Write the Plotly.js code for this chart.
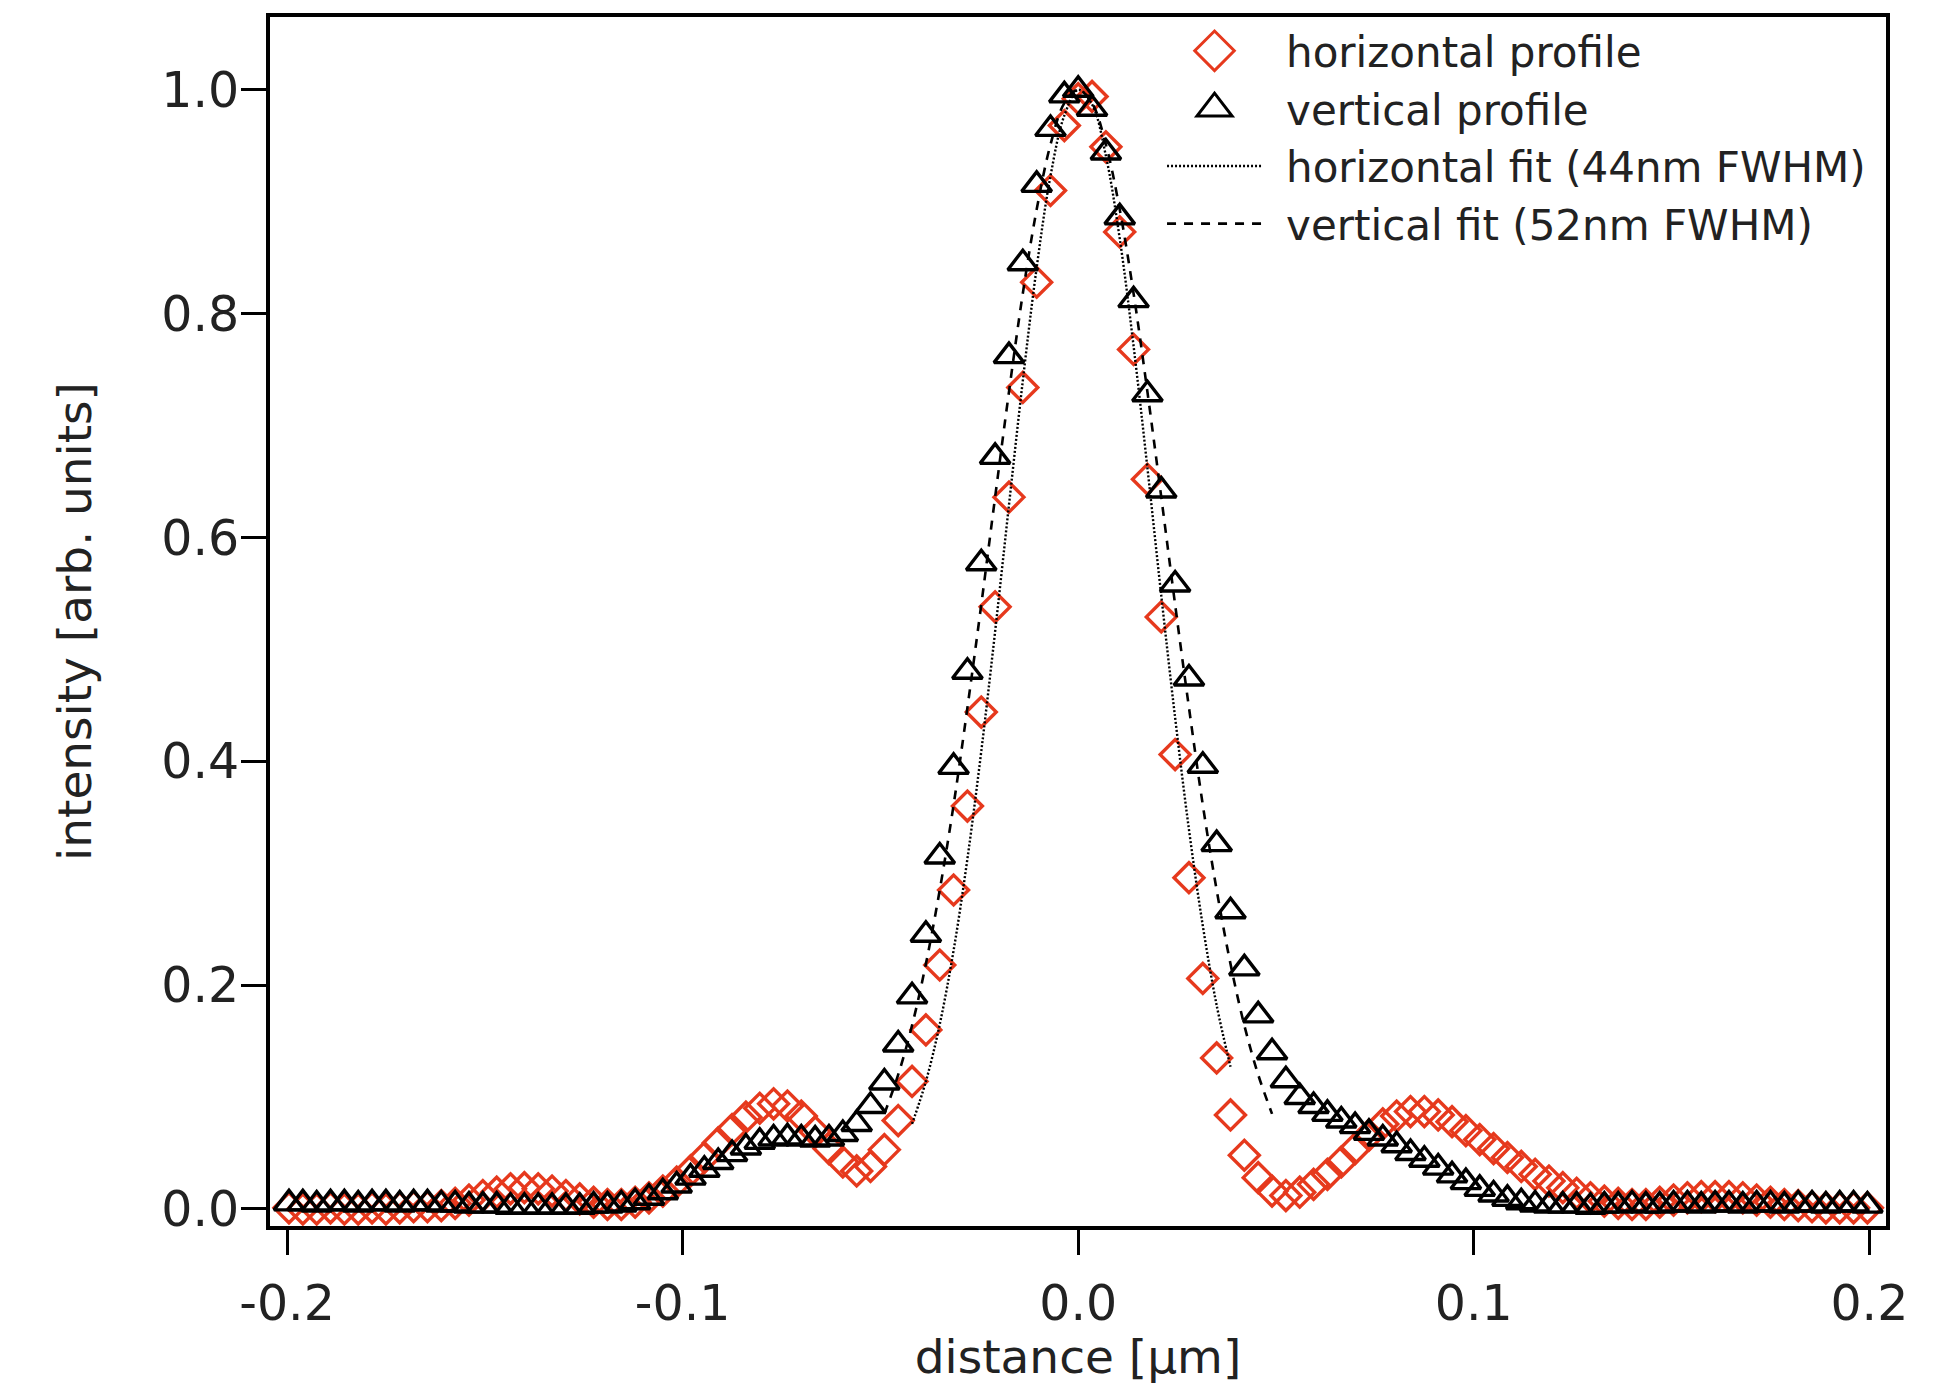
<!DOCTYPE html>
<html>
<head>
<meta charset="utf-8">
<script src="https://cdn.plot.ly/plotly-3.0.1.min.js"></script>
<style>
  html, body { margin: 0; padding: 0; background: #ffffff; }
  #chart { width: 1958px; height: 1384px; }
</style>
</head>
<body>
<div id="chart"></div>
<script>
// distance [µm] of each profile sample
const distance = [
  -0.1995, -0.196, -0.1925, -0.189, -0.1855, -0.182, -0.1785, -0.175, -0.1715, -0.168,
  -0.1645, -0.161, -0.1575, -0.154, -0.1505, -0.147, -0.1435, -0.14, -0.1365, -0.133,
  -0.1295, -0.126, -0.1225, -0.119, -0.1155, -0.112, -0.1085, -0.105, -0.1015, -0.098,
  -0.0945, -0.091, -0.0875, -0.084, -0.0805, -0.077, -0.0735, -0.07, -0.0665, -0.063,
  -0.0595, -0.056, -0.0525, -0.049, -0.0455, -0.042, -0.0385, -0.035, -0.0315, -0.028,
  -0.0245, -0.021, -0.0175, -0.014, -0.0105, -0.007, -0.0035, 0,
  0.0035, 0.007, 0.0105, 0.014, 0.0175, 0.021, 0.0245, 0.028, 0.0315, 0.035,
  0.0385, 0.042, 0.0455, 0.049, 0.0525, 0.056, 0.0595, 0.063, 0.0665, 0.07,
  0.0735, 0.077, 0.0805, 0.084, 0.0875, 0.091, 0.0945, 0.098, 0.1015, 0.105,
  0.1085, 0.112, 0.1155, 0.119, 0.1225, 0.126, 0.1295, 0.133, 0.1365, 0.14,
  0.1435, 0.147, 0.1505, 0.154, 0.1575, 0.161, 0.1645, 0.168, 0.1715, 0.175,
  0.1785, 0.182, 0.1855, 0.189, 0.1925, 0.196, 0.1995
];

// horizontal profile (red diamonds)
const horizontalProfile = [
  0.001, 0.000, 0.000, 0.001, 0.000, 0.000, 0.001, 0.000, 0.001, 0.002, 0.002, 0.003, 0.005,
  0.008, 0.012, 0.015, 0.018, 0.019, 0.018, 0.016, 0.012, 0.009, 0.006, 0.004,
  0.004, 0.006, 0.010, 0.016, 0.024, 0.034, 0.046, 0.059, 0.071, 0.082, 0.090, 0.094, 0.092,
  0.083, 0.069, 0.054, 0.042, 0.034, 0.038, 0.053, 0.079, 0.114, 0.160, 0.218, 0.285, 0.360,
  0.444, 0.538, 0.636, 0.734, 0.828, 0.910, 0.968,
  0.992,
  0.994, 0.949, 0.873, 0.768, 0.652, 0.529, 0.406, 0.296, 0.206, 0.135, 0.084, 0.048, 0.028,
  0.016, 0.012, 0.015, 0.022, 0.031, 0.042, 0.054, 0.066, 0.076, 0.083, 0.087, 0.087, 0.084,
  0.078, 0.070, 0.062, 0.054, 0.046, 0.038, 0.031, 0.025, 0.019, 0.014, 0.010, 0.007, 0.005,
  0.004, 0.004, 0.006, 0.008, 0.010, 0.011, 0.011, 0.011, 0.010, 0.008, 0.006, 0.004, 0.003,
  0.002, 0.001, 0.001, 0.001, 0.001
];

// vertical profile (black triangles)
const verticalProfile = [
  0.005, 0.005, 0.004, 0.005, 0.005, 0.004, 0.005, 0.005, 0.004, 0.005, 0.005, 0.004,
  0.004, 0.003, 0.003, 0.003, 0.002, 0.002, 0.002, 0.002, 0.002, 0.002, 0.003, 0.003,
  0.004, 0.006, 0.010, 0.015, 0.021, 0.028, 0.035, 0.042, 0.049, 0.055, 0.060, 0.063, 0.064,
  0.063, 0.062, 0.063, 0.067, 0.076, 0.092, 0.113, 0.147, 0.190, 0.245, 0.315, 0.395, 0.480,
  0.577, 0.672, 0.762, 0.845, 0.915, 0.965, 0.995,
  1.000,
  0.983, 0.944, 0.886, 0.812, 0.728, 0.642, 0.558, 0.474, 0.396, 0.326, 0.266, 0.215, 0.173,
  0.140, 0.115, 0.100, 0.092, 0.085, 0.079, 0.074, 0.068, 0.063, 0.057, 0.050, 0.044, 0.037,
  0.030, 0.024, 0.018, 0.013, 0.009, 0.006, 0.004, 0.003,
  0.003, 0.003, 0.002, 0.003, 0.003, 0.004, 0.003, 0.003, 0.004, 0.004, 0.003, 0.004,
  0.004, 0.003, 0.004, 0.004, 0.003, 0.004, 0.004, 0.003, 0.004, 0.004, 0.003
];

// horizontal fit (44nm FWHM), dotted
const hFitX = [
  -0.042, -0.0385, -0.035, -0.0315, -0.028, -0.0245, -0.021, -0.0175, -0.014,
  -0.0105, -0.007, -0.0035, 0, 0.0035, 0.007, 0.0105, 0.014, 0.0175, 0.021,
  0.0245, 0.028, 0.0315, 0.035, 0.0385
];
const hFitY = [
  0.076, 0.114, 0.165, 0.231, 0.313, 0.409, 0.516, 0.629, 0.740,
  0.841, 0.923, 0.977, 1.000, 0.987, 0.941, 0.867, 0.771, 0.662, 0.548,
  0.439, 0.339, 0.253, 0.182, 0.127
];

// vertical fit (52nm FWHM), dashed
const vFitX = [
  -0.049, -0.0455, -0.042, -0.0385, -0.035, -0.0315, -0.028, -0.0245, -0.021, -0.0175, -0.014,
  -0.0105, -0.007, -0.0035, 0, 0.0035, 0.007, 0.0105, 0.014, 0.0175, 0.021,
  0.0245, 0.028, 0.0315, 0.035, 0.0385, 0.042, 0.0455, 0.049
];
const vFitY = [
  0.085, 0.120, 0.164, 0.219, 0.285, 0.361, 0.448, 0.540, 0.636, 0.730, 0.818,
  0.893, 0.951, 0.988, 1.000, 0.988, 0.951, 0.893, 0.818, 0.730, 0.636,
  0.540, 0.448, 0.361, 0.285, 0.219, 0.164, 0.120, 0.085
];

const seriesNames = [
  'horizontal profile',
  'vertical profile',
  'horizontal fit (44nm FWHM)',
  'vertical fit (52nm FWHM)'
];

const xTickVals = [-0.2, -0.1, 0.0, 0.1, 0.2];
const xTickText = ['-0.2', '-0.1', '0.0', '0.1', '0.2'];
const yTickVals = [0.0, 0.2, 0.4, 0.6, 0.8, 1.0];
const yTickText = ['0.0', '0.2', '0.4', '0.6', '0.8', '1.0'];

const FONT = '"DejaVu Sans", Verdana, sans-serif';
const RED = '#e6391d';

const traces = [
  {
    x: distance, y: horizontalProfile, name: seriesNames[0],
    type: 'scatter', mode: 'markers',
    marker: { symbol: 'diamond-open', size: 23, color: RED, line: { width: 3.4, color: RED } }
  },
  {
    x: distance, y: verticalProfile, name: seriesNames[1],
    type: 'scatter', mode: 'markers',
    marker: { symbol: 'triangle-up-open', size: 26, color: '#000', line: { width: 3.4, color: '#000' } }
  },
  {
    x: hFitX, y: hFitY, name: seriesNames[2],
    type: 'scatter', mode: 'lines',
    line: { color: '#000', width: 2.4, dash: '2px,2px', shape: 'spline' }
  },
  {
    x: vFitX, y: vFitY, name: seriesNames[3],
    type: 'scatter', mode: 'lines',
    line: { color: '#000', width: 2.6, dash: '9px,8px', shape: 'spline' }
  }
];

const axisCommon = {
  showline: true, linewidth: 4, linecolor: '#000', mirror: true,
  ticks: 'outside', ticklen: 25, tickwidth: 3, tickcolor: '#000',
  showgrid: false, zeroline: false,
  tickfont: { family: FONT, size: 49, color: '#222' },
  automargin: false
};

const layout = {
  width: 1958, height: 1384,
  paper_bgcolor: '#ffffff', plot_bgcolor: '#ffffff',
  margin: { l: 270, r: 72, t: 17, b: 158, pad: 0 },
  font: { family: FONT, color: '#222' },
  showlegend: true,
  legend: {
    x: 0.552, y: 1.0, xanchor: 'left', yanchor: 'top',
    bgcolor: 'rgba(0,0,0,0)', borderwidth: 0,
    font: { family: FONT, size: 42, color: '#222' },
    itemwidth: 95, tracegroupgap: 0
  },
  xaxis: Object.assign({}, axisCommon, {
    range: [-0.2043, 0.2042],
    tickmode: 'array', tickvals: xTickVals, ticktext: xTickText,
    ticklabelstandoff: 6,
    title: { text: 'distance [μm]', font: { family: FONT, size: 47, color: '#222' }, standoff: 13 }
  }),
  yaxis: Object.assign({}, axisCommon, {
    range: [-0.0152, 1.065],
    tickmode: 'array', tickvals: yTickVals, ticktext: yTickText,
    ticklabelstandoff: -8,
    title: { text: 'intensity [arb. units]', font: { family: FONT, size: 47, color: '#222' }, standoff: 56 }
  })
};

Plotly.newPlot('chart', traces, layout, { displayModeBar: false, staticPlot: true }).then(function (gd) {
  const legend = gd.querySelector('.legend');
  if (!legend) return;
  // let the legend labels run past plotly's computed clip box
  legend.querySelectorAll('[clip-path]').forEach(function (el) { el.removeAttribute('clip-path'); });
  // leave a small gap between the legend symbols and their labels, as in the original
  legend.querySelectorAll('.legendtext').forEach(function (t) {
    const x0 = parseFloat(t.getAttribute('x')) || 0;
    t.setAttribute('x', x0 + 19);
  });
  // the original's legend markers are drawn larger than plotly's capped legend size
  legend.querySelectorAll('.legendpoints path.scatterpts').forEach(function (p) {
    const tr = p.getAttribute('transform') || '';
    p.setAttribute('transform', tr + ' scale(1.9)');
    p.style.vectorEffect = 'non-scaling-stroke';
    p.style.strokeWidth = '3px';
  });
});
</script>
</body>
</html>
